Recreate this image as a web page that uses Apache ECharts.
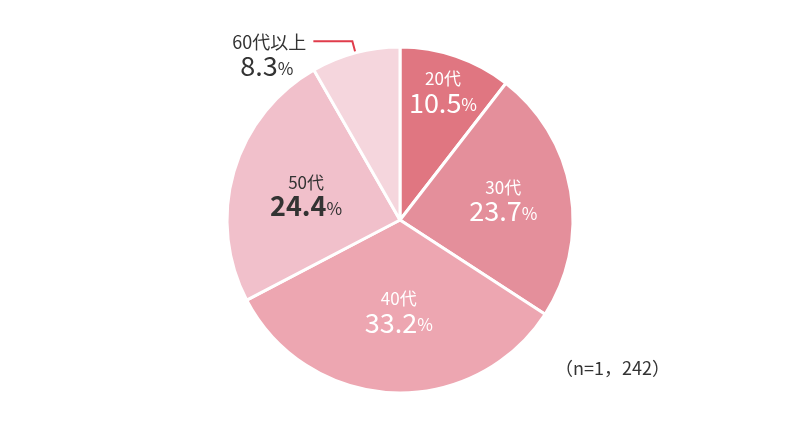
<!DOCTYPE html>
<html><head><meta charset="utf-8">
<script src="https://cdn.jsdelivr.net/npm/echarts@6/dist/echarts.min.js"></script>
<style>html,body{margin:0;padding:0;background:#fff}#c{width:800px;height:441px}</style>
</head><body><div id="c"></div>
<script>
const categories = ['20代', '30代', '40代', '50代', '60代以上'];
const values = [10.5, 23.7, 33.2, 24.4, 8.3];
const sampleNote = '（n=1，242）';

const colors = ['#e07681', '#e48f9b', '#eda6b1', '#f1c0cb', '#f5d6dd'];
const labelColors = ['#fff', '#fff', '#fff', '#333', '#333'];
const offsets = [[14, -43], [15, -4], [3, 3], [-8, 1], [0, 0]];
const FONT = '"Noto Sans CJK JP", "Noto Sans", sans-serif';

function richFor(color, bold, pRight, aSize) {
  return {
    a: { fontSize: aSize || 17, color: color, fontFamily: FONT, lineHeight: 20 },
    n: { fontSize: 27, color: color, fontFamily: FONT, fontWeight: bold ? 'bold' : 'normal', lineHeight: 27 },
    p: { fontSize: 17, color: color, fontFamily: FONT, lineHeight: 27, padding: [5, pRight || 0, 0, 0] }
  };
}

const fmt = p => '{a|' + p.name + '}\n{n|' + p.value.toFixed(1) + '}{p|%}';

const data = categories.map((c, i) => {
  const outside = i === 4;
  return {
    name: c, value: values[i],
    itemStyle: { color: colors[i] },
    label: outside ? {
      position: 'outside',
      formatter: fmt,
      rich: richFor('#333', false, 13, 18),
      distanceToLabelLine: 7,
      padding: [29, 0, 0, 0]
    } : {
      position: 'inside',
      offset: offsets[i],
      formatter: fmt,
      rich: richFor(labelColors[i], i === 3)
    },
    labelLine: outside ? { show: true, length: 12, length2: 39, smooth: false,
      lineStyle: { color: '#e03c4b', width: 2 } } : { show: false }
  };
});

const chart = echarts.init(document.getElementById('c'));
chart.setOption({
  animation: false,
  series: [{
    type: 'pie',
    center: [400, 220],
    radius: [0, 173],
    startAngle: 90,
    clockwise: true,
    avoidLabelOverlap: false,
    itemStyle: { borderColor: '#fff', borderWidth: 3 },
    label: { show: true },
    emphasis: { disabled: true },
    data: data
  }],
  graphic: [{
    type: 'text', left: 555, top: 359,
    style: { text: sampleNote, fontSize: 18, fill: '#333', fontFamily: FONT }
  }]
});
</script></body></html>
